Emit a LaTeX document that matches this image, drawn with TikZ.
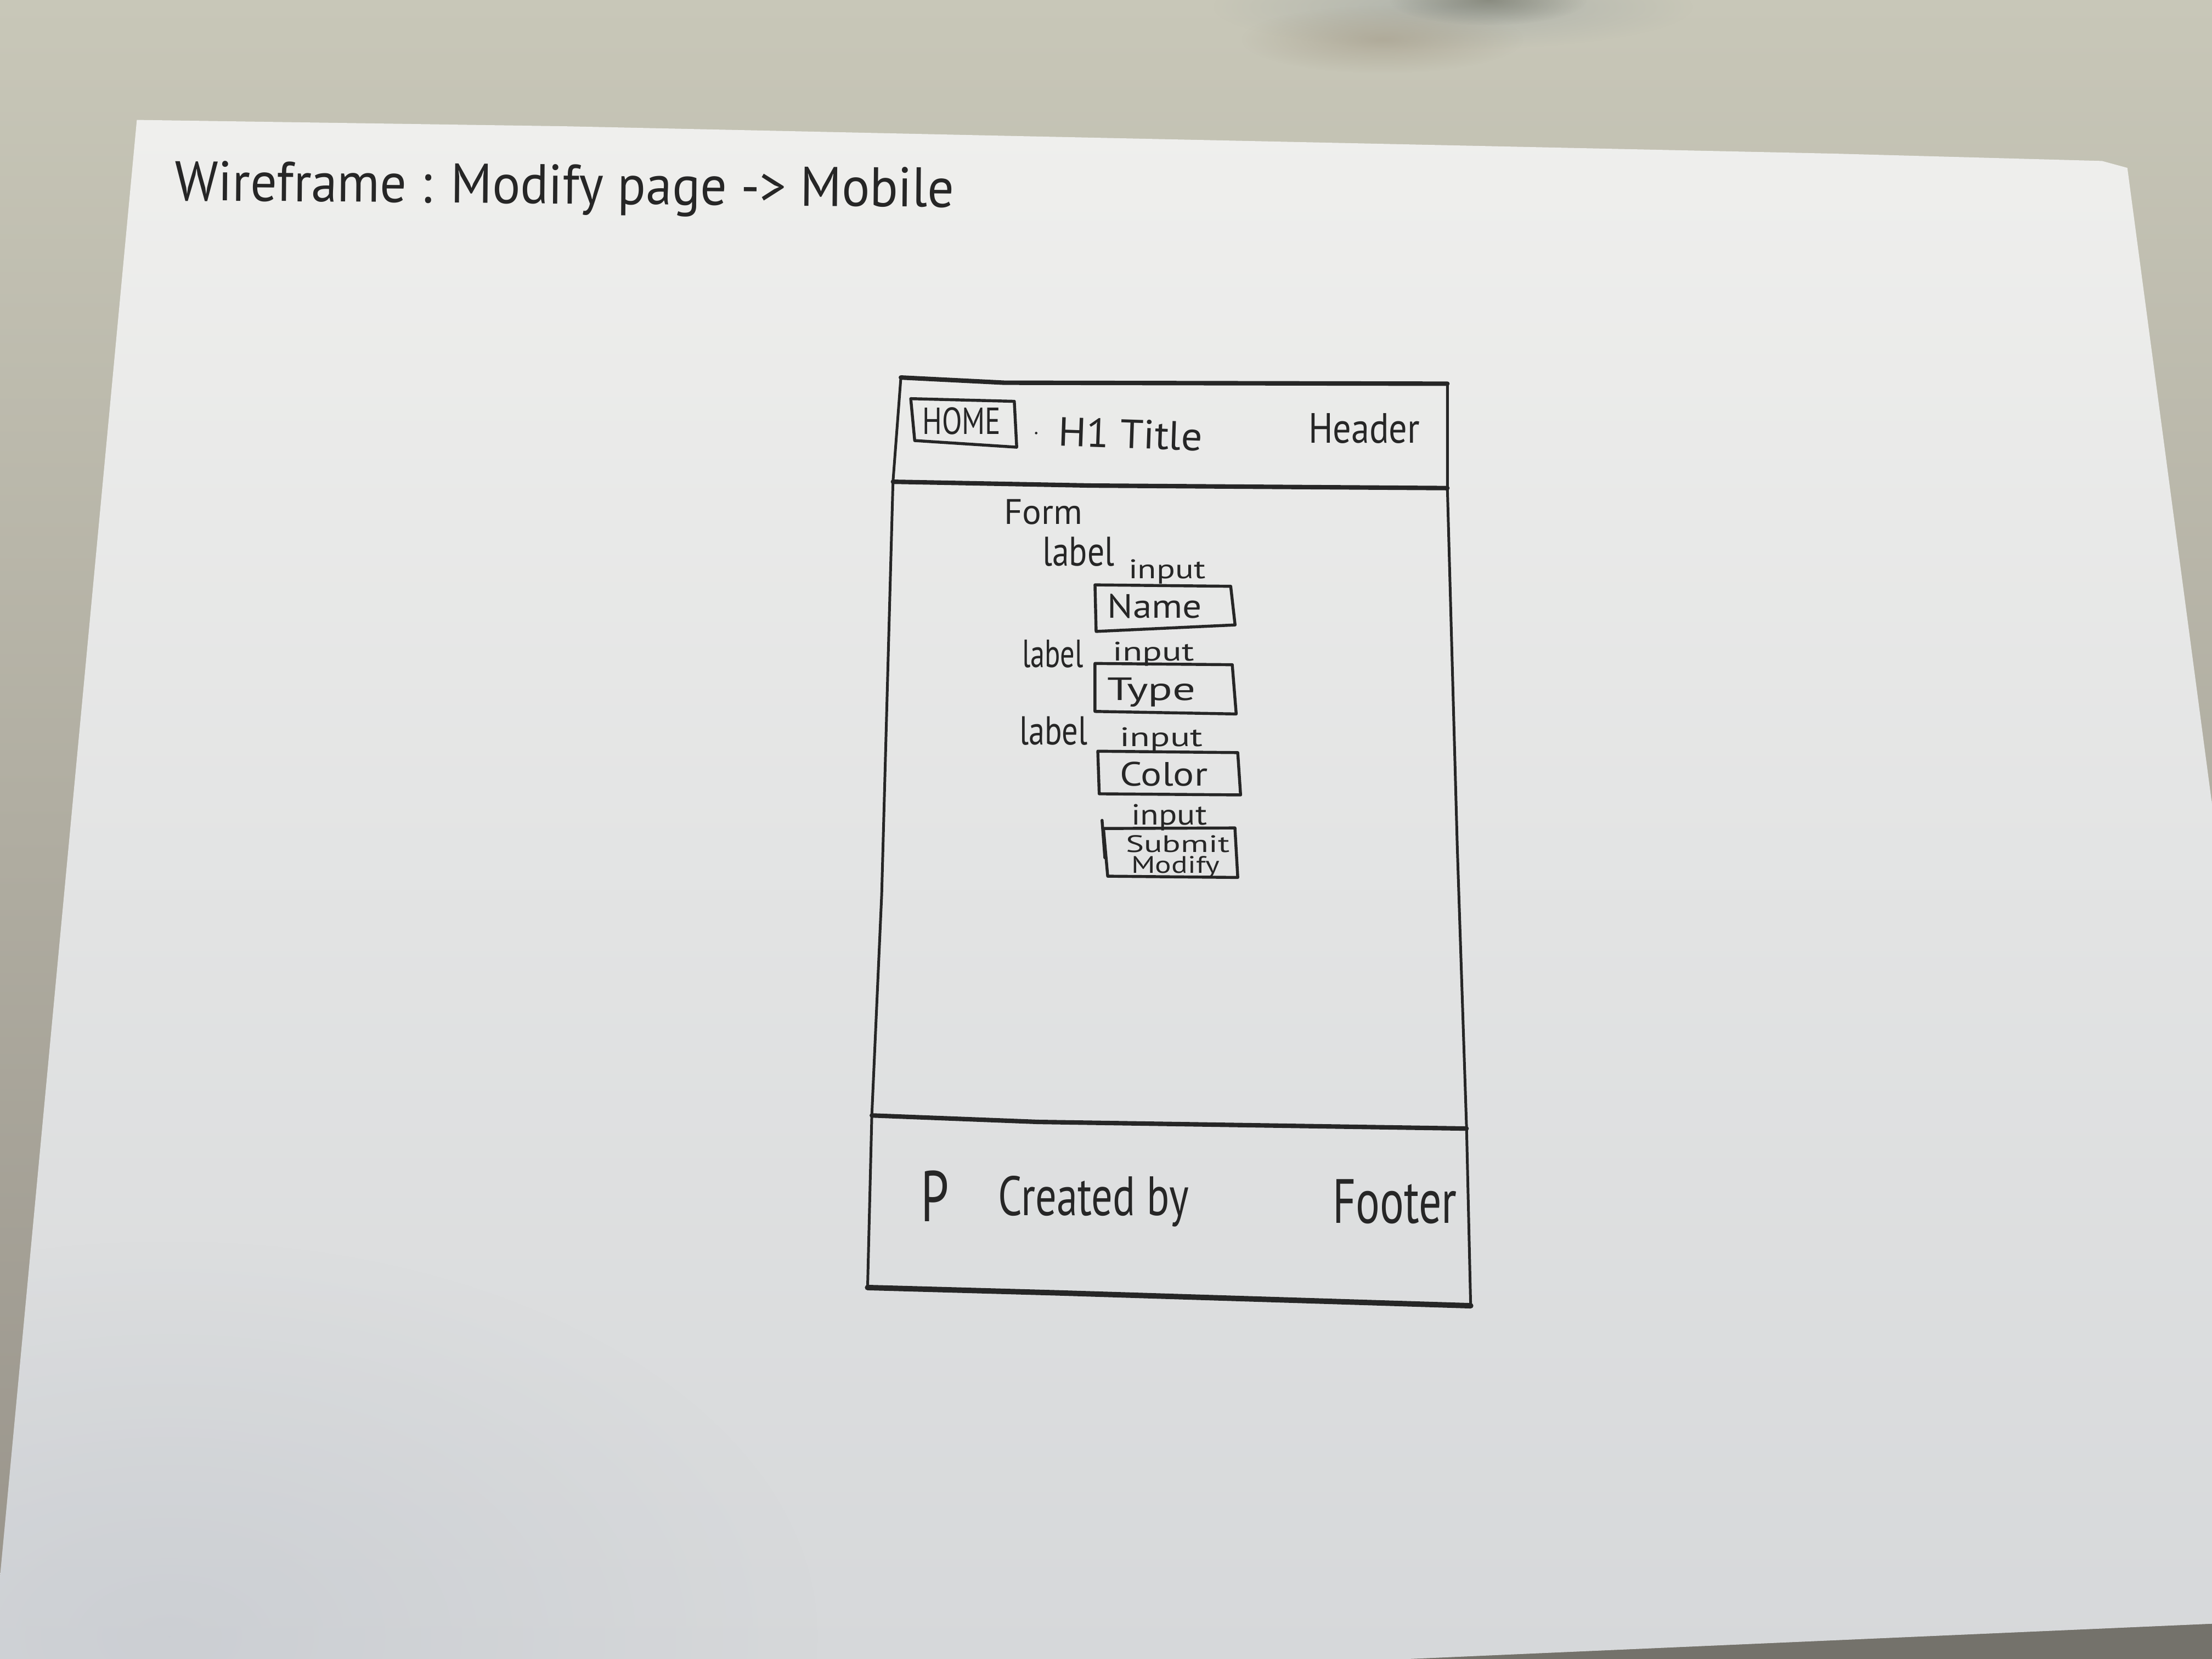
\documentclass[tikz,border=0pt]{standalone}
\usepackage{fontspec}
\setmainfont{PT Sans}
\usepackage{graphicx}
\usetikzlibrary{fadings}

\definecolor{tabletop}{HTML}{C8C7B8}
\definecolor{tablelow}{HTML}{98938A}
\definecolor{paperhi}{HTML}{EFEFED}
\definecolor{paperlo}{HTML}{D6D8DA}
\definecolor{ink}{HTML}{262626}
\definecolor{cupdark}{HTML}{7C7E72}
\definecolor{cupbrown}{HTML}{A8A18F}
\definecolor{cupblue}{HTML}{A9AEA8}
\definecolor{edgeshade}{HTML}{74726B}
\definecolor{sheetshadow}{HTML}{C2C6CD}

% hand-lettered text: fixed width and height
\newcommand\hand[3]{\resizebox{#1cm}{#2cm}{#3}}
% outline of the sheet of paper
\newcommand\sheetoutline{(97,85) -- (400,89.5) -- (700,96) -- (1000,102.4) -- (1300,108.9)
  -- (1490,114.1) -- (1508,119) -- (1553,457) -- (1568,570) -- (1568,1151)
  -- (1089,1172) -- (998,1176) -- (0,1176) -- (0,1118) -- (21,894) -- cycle}

\tikzfading[name=softblob, inner color=transparent!0, outer color=transparent!100]

\begin{document}
\begin{tikzpicture}[x=0.01cm,y=-0.01cm,
  pen/.style={draw=ink, line width=0.6pt, line cap=round, line join=round},
  rule/.style={draw=ink, line width=0.9pt, line cap=round, line join=round},
  side/.style={draw=ink, line width=0.55pt, line cap=round, line join=round},
  txt/.style={inner sep=0pt, outer sep=0pt, text=ink, anchor=base west}]

\useasboundingbox (0,0) rectangle (1568,1176);

% table surface
\shade[top color=tabletop, bottom color=tablelow] (0,0) rectangle (1568,1176);
\fill[edgeshade] (998,1176) -- (1089,1172) -- (1568,1151) -- (1568,1176) -- cycle;
% blurred cup at the top edge
\fill[cupblue, opacity=0.8, path fading=softblob] (1030,5) ellipse (170 and 30);
\fill[cupbrown, opacity=0.7, path fading=softblob] (980,28) ellipse (100 and 24);
\fill[cupdark, opacity=0.75, path fading=softblob] (1055,0) ellipse (70 and 18);

% sheet of paper
\shade[top color=paperhi, bottom color=paperlo] \sheetoutline;
\begin{scope}
  \clip \sheetoutline;
  \fill[sheetshadow, opacity=0.5, path fading=softblob] (120,1160) ellipse (460 and 280);
\end{scope}

% title
\node[txt, rotate=-0.5] (title) at (124,142)
  {\hand{5.52}{0.28}{Wireframe : Modify page -> Mobile}};

% phone frame
\coordinate (tl) at (638.6,267.6);
\coordinate (tr) at (1026,272);
\coordinate (hl) at (633,341.5);
\coordinate (hr) at (1026,346);
\coordinate (fl) at (618,790.7);
\coordinate (fr) at (1039.6,800);
\coordinate (bl) at (615,912.7);
\coordinate (br) at (1042.5,925.6);

\draw[side] (tl) -- (hl) -- (625,634) -- (fl) -- (bl);
\draw[side] (tr) -- (hr) -- (1033,600) -- (fr) -- (br);
\draw[rule] (tl) -- (712,271.3) -- (tr);
\draw[rule] (hl) -- (773.4,344.2) -- (hr);
\draw[rule] (fl) -- (736,795.3) -- (fr);
\draw[rule, line width=1.1pt] (bl) -- (750.6,916.5) -- (br);

% header
\draw[pen] (645.6,282.6) -- (719,284.5) -- (720.7,317) -- (648.4,312.3) -- cycle;
\node[txt] (home) at (654,308) {\hand{0.555}{0.19}{HOME}};
\fill[ink] (734.5,307) circle (0.9);
\node[txt, rotate=-2] (h1title) at (750,316) {\hand{1.02}{0.205}{H1 Title}};
\node[txt] (header) at (927.5,314) {\hand{0.79}{0.21}{Header}};

% form
\node[txt] (form) at (711.7,371.6) {\hand{0.557}{0.176}{Form}};

\node[txt] (label1) at (739,401) {\hand{0.51}{0.205}{label}};
\node[txt] (input1) at (800,410) {\hand{0.545}{0.135}{input}};
\draw[pen] (776.2,414.6) -- (872.4,415.6) -- (875.5,443) -- (777,447.6) -- cycle;
\node[txt] (name) at (785,438) {\hand{0.67}{0.17}{Name}};

\node[txt] (label2) at (724.5,473) {\hand{0.435}{0.195}{label}};
\node[txt] (input2) at (789,468.4) {\hand{0.576}{0.134}{input}};
\draw[pen] (776.2,470.3) -- (873.5,471.2) -- (876.3,506.1) -- (776.2,504.3) -- cycle;
\node[txt] (type) at (785,496.6) {\hand{0.625}{0.16}{Type}};

\node[txt] (label3) at (722.6,528) {\hand{0.484}{0.2}{label}};
\node[txt] (input3) at (794,529) {\hand{0.585}{0.134}{input}};
\draw[pen] (778.2,532.5) -- (877.4,533.5) -- (879.4,563.5) -- (779.2,562.7) -- cycle;
\node[txt] (color) at (794,557) {\hand{0.62}{0.17}{Color}};

\node[txt] (input4) at (802,584.6) {\hand{0.536}{0.146}{input}};
\draw[pen] (782.2,587.3) -- (875.4,586.9) -- (877.4,622) -- (785.2,621.1) -- cycle;
\draw[pen] (781.2,581.5) -- (783.2,608);
\node[txt] (submit) at (798,604) {\hand{0.736}{0.12}{Submit}};
\node[txt] (modify) at (802,619) {\hand{0.626}{0.12}{Modify}};

% footer
\node[txt] (p) at (652.7,866) {\hand{0.2}{0.36}{P}};
\node[txt] (created) at (707.5,861.5) {\hand{1.35}{0.28}{Created by}};
\node[txt] (footer) at (944.7,867) {\hand{0.88}{0.31}{Footer}};

\end{tikzpicture}
\end{document}
